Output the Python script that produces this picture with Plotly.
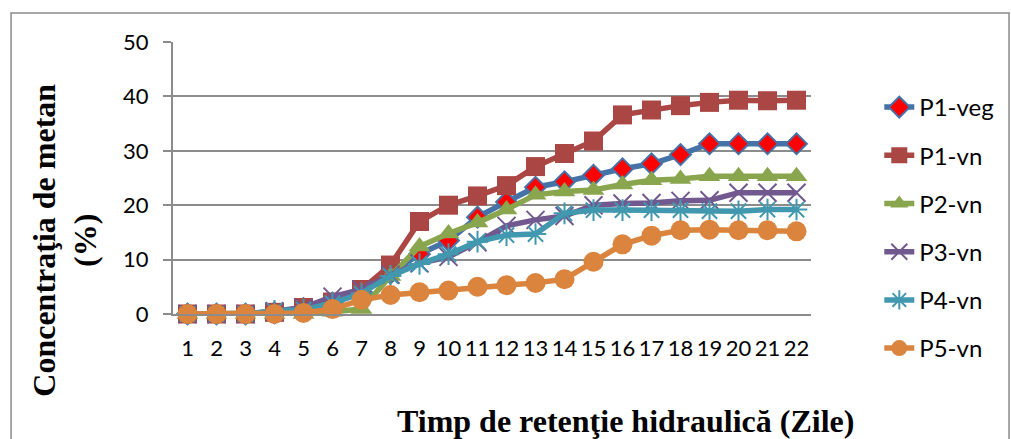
import plotly.graph_objects as go

# Hydraulic retention time (days) on the category axis
days = [str(d) for d in range(1, 23)]

# Methane concentration (%) per reactor
p1_veg = [0, 0, 0, 0.2, 1.0, 2.0, 4.0, 7.5, 11.0, 13.5, 17.8, 20.6, 23.3, 24.3, 25.5, 26.7, 27.6, 29.3, 31.3, 31.3, 31.3, 31.3]
p1_vn = [0, 0, 0, 0.3, 1.2, 2.2, 4.5, 9.0, 17.0, 20.0, 21.7, 23.6, 27.1, 29.5, 31.8, 36.6, 37.5, 38.3, 38.9, 39.3, 39.2, 39.3]
p2_vn = [0, 0, 0, 0, 0, 0.4, 0.9, 7.0, 12.4, 14.8, 16.8, 19.2, 21.9, 22.5, 22.8, 23.8, 24.6, 24.8, 25.3, 25.3, 25.3, 25.3]
p3_vn = [0, 0, 0, 0.5, 1.2, 3.2, 4.5, 7.2, 9.3, 10.5, 13.2, 16.2, 17.3, 18.0, 20.0, 20.3, 20.4, 20.8, 20.9, 22.3, 22.3, 22.3]
p4_vn = [0, 0, 0, 0.6, 0.8, 2.0, 3.8, 7.0, 9.2, 11.0, 13.3, 14.5, 14.7, 18.5, 19.1, 19.1, 19.1, 19.1, 18.9, 18.9, 19.2, 19.2]
p5_vn = [0, 0, 0, 0, 0.2, 0.9, 2.6, 3.5, 4.0, 4.3, 5.0, 5.3, 5.7, 6.4, 9.6, 12.8, 14.4, 15.4, 15.5, 15.4, 15.4, 15.2]

series = [
    ("P1-veg", p1_veg, "#4572A7", dict(symbol="diamond", size=16, color="#FF0000",
                                        line=dict(color="#4572A7", width=2))),
    ("P1-vn", p1_vn, "#AA4643", dict(symbol="square", size=19, color="#AA4643")),
    ("P2-vn", p2_vn, "#89A54E", dict(symbol="triangle-up", size=19, color="#89A54E")),
    ("P3-vn", p3_vn, "#71588F", dict(symbol="x-thin-open", size=18,
                                       line=dict(color="#71588F", width=2))),
    ("P4-vn", p4_vn, "#4198AF", dict(symbol="asterisk-open", size=18,
                                       line=dict(color="#4198AF", width=2))),
    ("P5-vn", p5_vn, "#DB843D", dict(symbol="circle", size=20, color="#DB843D")),
]

fig = go.Figure()
for i, (name, vals, col, mk) in enumerate(series):
    fig.add_trace(go.Scatter(
        x=days, y=vals, name=name, mode="lines+markers",
        line=dict(color=col, width=5.5), marker=mk,
        cliponaxis=False, legendgroup=f"g{i}",
    ))

GRID = "#8C8C8C"
L, R, T, B = 173, 184, 42, 125
W, H = 1011, 439
pw, ph = W - L - R, H - T - B


def px_x(p):
    return (p - L) / pw


def px_y(p):
    return (H - B - p) / ph


SERIF = "'Liberation Serif', 'Times New Roman', serif"

fig.update_layout(
    width=W, height=H,
    margin=dict(l=L, r=R, t=T, b=B),
    paper_bgcolor="white", plot_bgcolor="white",
    font=dict(family="Lato, 'Open Sans', sans-serif", color="#000000"),
    legend=dict(
        x=px_x(897), y=px_y(85), xanchor="left", yanchor="top",
        font=dict(size=24, family="Lato, sans-serif"),
        tracegroupgap=14, itemsizing="trace", maxheight=400,
        bgcolor="rgba(0,0,0,0)",
    ),
    xaxis=dict(
        type="category", range=[-0.5, 21.5],
        showgrid=False, showline=True, linecolor=GRID, linewidth=2,
        ticks="", tickfont=dict(size=22), ticklabelstandoff=14,
    ),
    yaxis=dict(
        range=[0, 50], dtick=10, showgrid=True, gridcolor=GRID, gridwidth=2,
        showline=True, linecolor=GRID, linewidth=2, zeroline=False,
        ticks="outside", ticklen=8, tickcolor=GRID, tickwidth=2,
        tickfont=dict(size=22), ticklabelstandoff=10,
    ),
    annotations=[
        dict(text="Concentraţia de metan<br>(%)", textangle=-90,
             x=px_x(62), y=px_y(240), xref="paper", yref="paper",
             xanchor="center", yanchor="middle", showarrow=False,
             font=dict(family=SERIF, size=32, color="#000000", weight="bold"),
             align="center"),
        dict(text="Timp de retenţie hidraulică (Zile)",
             x=px_x(637), y=px_y(421), xref="paper", yref="paper",
             xanchor="center", yanchor="middle", showarrow=False,
             font=dict(family=SERIF, size=32, color="#000000", weight="bold")),
    ],
    shapes=[
        dict(type="rect", xref="paper", yref="paper",
             x0=px_x(7), x1=px_x(1030), y0=px_y(460), y1=px_y(13),
             line=dict(color="#8A8A8A", width=1.5), fillcolor="rgba(0,0,0,0)",
             layer="below"),
    ],
)

fig.write_html("out.html")
